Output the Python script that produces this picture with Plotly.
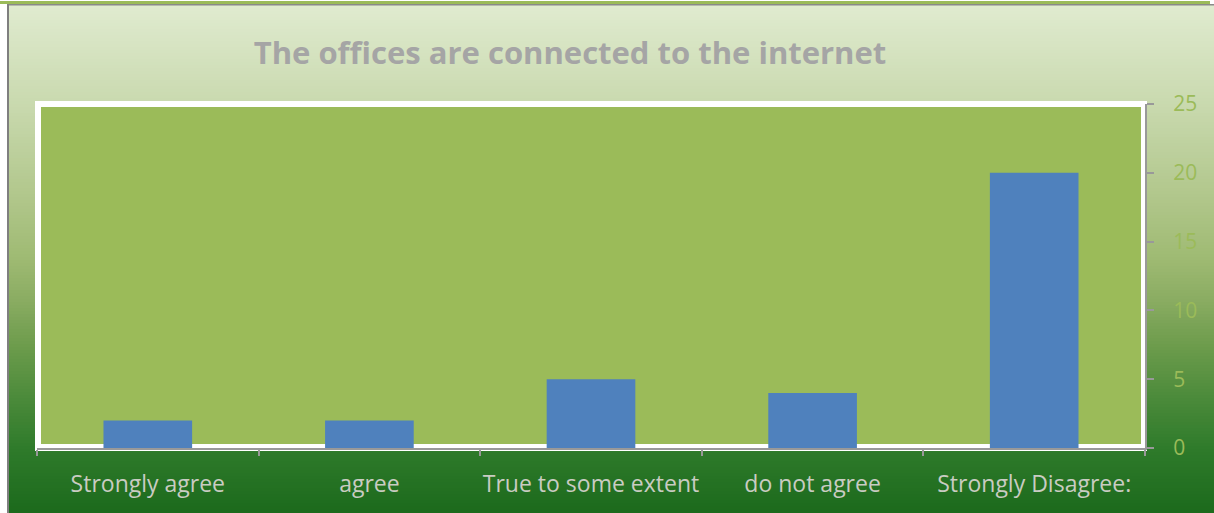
import plotly.graph_objects as go

categories = ["Strongly agree", "agree", "True to some extent", "do not agree", "Strongly Disagree:"]
values = [2, 2, 5, 4, 20]
y_ticks = [0, 5, 10, 15, 20, 25]
title_text = "The offices are connected to the internet"

W, H = 1214, 513
L, R, T, B = 37, 1145, 104, 448  # plot area pixel bounds


def px_x(p):
    return (p - L) / (R - L)


def px_y(p):
    return (B - p) / (B - T)


def lerp(c1, c2, t):
    return tuple(round(a + (b - a) * t) for a, b in zip(c1, c2))


# gradient stops (pixel y, rgb)
stops = [
    (5, (224, 235, 208)),
    (100, (202, 218, 176)),
    (200, (176, 198, 138)),
    (260, (158, 186, 114)),
    (300, (138, 172, 98)),
    (350, (106, 154, 74)),
    (400, (74, 138, 58)),
    (450, (46, 122, 42)),
    (513, (28, 106, 28)),
]

shapes = []
step = 3
y = 5
while y < 513:
    yc = y + step / 2
    for i in range(len(stops) - 1):
        if stops[i][0] <= yc <= stops[i + 1][0]:
            t = (yc - stops[i][0]) / (stops[i + 1][0] - stops[i][0])
            c = lerp(stops[i][1], stops[i + 1][1], t)
            break
    shapes.append(dict(type="rect", xref="paper", yref="paper",
                       x0=px_x(8), x1=px_x(1214), y0=px_y(y), y1=px_y(min(y + step + 1, 513)),
                       fillcolor="rgb(%d,%d,%d)" % c, line=dict(width=0), layer="below"))
    y += step

# top green line and gray borders
shapes.append(dict(type="rect", xref="paper", yref="paper", x0=px_x(0), x1=px_x(1210),
                   y0=px_y(1), y1=px_y(4), fillcolor="#9bbb59", line=dict(width=0), layer="below"))
shapes.append(dict(type="rect", xref="paper", yref="paper", x0=px_x(8), x1=px_x(1214),
                   y0=px_y(4), y1=px_y(5.5), fillcolor="#8a8a8a", line=dict(width=0), layer="below"))
shapes.append(dict(type="rect", xref="paper", yref="paper", x0=px_x(7), x1=px_x(9),
                   y0=px_y(4), y1=px_y(513), fillcolor="#7f7f7f", line=dict(width=0), layer="below"))
# plot area white frame and green fill
shapes.append(dict(type="rect", xref="paper", yref="paper", x0=px_x(35), x1=px_x(1147),
                   y0=px_y(101), y1=px_y(451), fillcolor="#ffffff", line=dict(width=0), layer="below"))
shapes.append(dict(type="rect", xref="paper", yref="paper", x0=px_x(41), x1=px_x(1141),
                   y0=px_y(107), y1=px_y(444), fillcolor="#9bbb59", line=dict(width=0), layer="below"))

fig = go.Figure(go.Bar(x=categories, y=values, marker=dict(color="#4f81bd", line=dict(width=0)),
                       width=0.4, hoverinfo="skip"))

fig.update_layout(
    width=W, height=H,
    margin=dict(l=L, r=W - R, t=T, b=H - B, pad=0, autoexpand=False),
    paper_bgcolor="white",
    plot_bgcolor="rgba(0,0,0,0)",
    showlegend=False,
    shapes=shapes,
    title=dict(text="<b>" + title_text + "</b>", x=px_x(570), xref="paper", xanchor="center",
               y=1 - 53 / H, yref="container", yanchor="middle",
               font=dict(family="Open Sans", size=31, color="#a5a5a5")),
    xaxis=dict(type="category", range=[-0.5, 4.5], showline=True, linecolor="#999999", linewidth=2,
               ticks="outside", tickson="boundaries", ticklen=6, tickcolor="#999999", tickwidth=2,
               showgrid=False, zeroline=False, ticklabelstandoff=14, tickangle=0, automargin=False,
               tickfont=dict(family="Open Sans", size=23, color="#c9ccc2")),
    yaxis=dict(range=[0, 25], side="right", showline=True, linecolor="#999999", linewidth=2,
               ticks="outside", ticklen=7, tickcolor="#999999", tickwidth=2, automargin=False,
               tickvals=y_ticks, showgrid=False, zeroline=False, ticklabelstandoff=15,
               tickfont=dict(family="Open Sans", size=21, color="#9bbb59")),
    bargap=0.6,
)

fig.write_html("out.html", config={"displayModeBar": False},
               post_script="document.body.style.margin='0';document.body.style.overflow='hidden';")
